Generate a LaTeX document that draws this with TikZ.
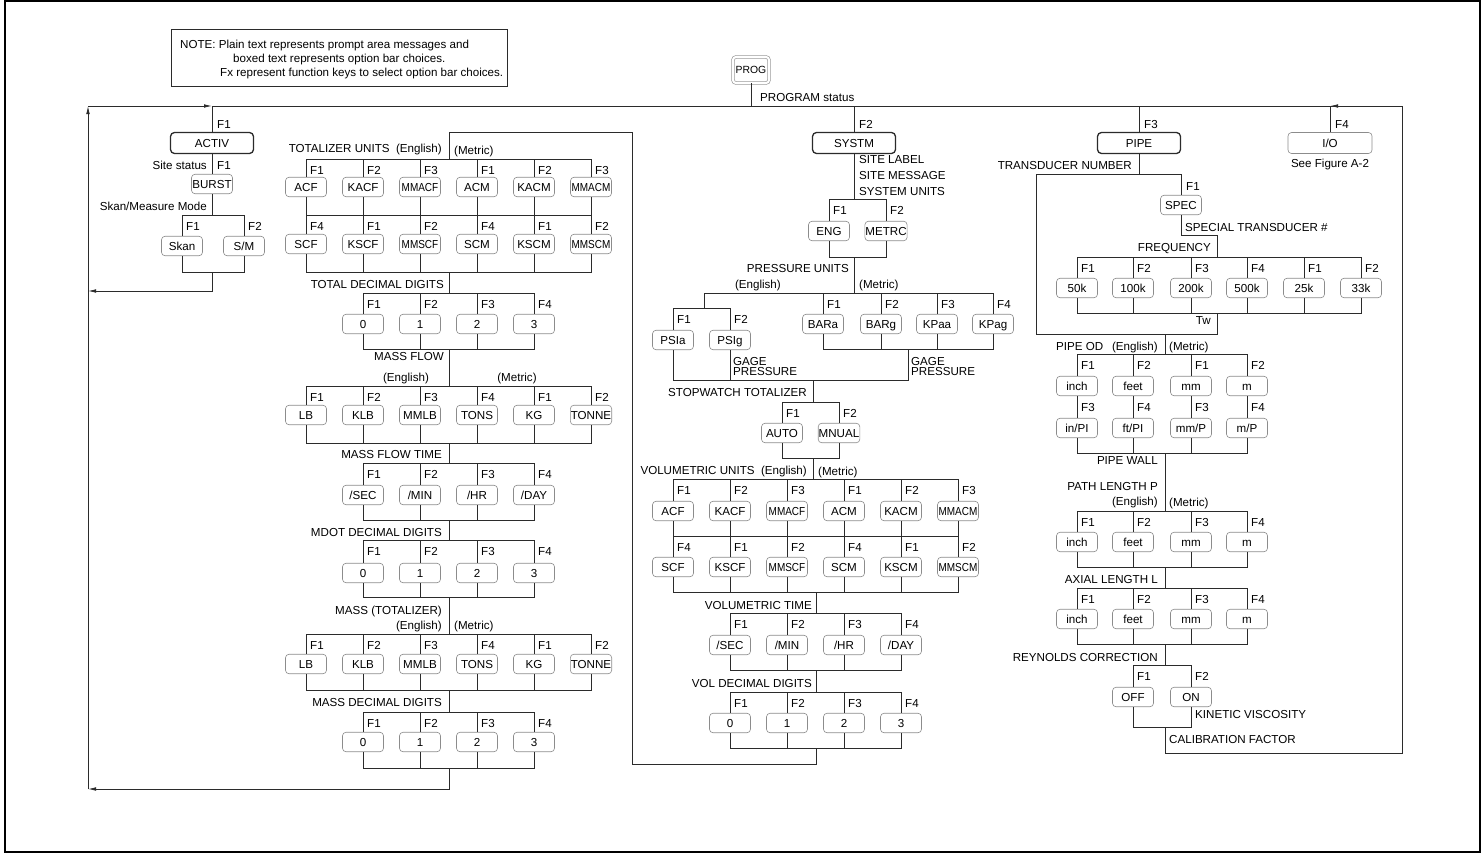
\documentclass[tikz,border=0pt]{standalone}
\usepackage{fontspec}
\setmainfont{Liberation Sans}
\usetikzlibrary{arrows.meta,positioning,calc}
\definecolor{Ink}{HTML}{2B2B2B}
\definecolor{Edge}{HTML}{8C8C8C}
\tikzset{>=Latex,
 every node/.style={font=\fontsize{11.6}{12}\selectfont,text=black},
 ln/.style={draw=Ink,line width=.8pt},
 arr/.style={ln,-{Latex[length=8pt,width=3.6pt]}},
 opt/.style={draw=Edge,fill=white,rounded corners=3.5pt,minimum width=41pt,minimum height=19.5pt,inner sep=.5pt,line width=.6pt,text height=8.3pt,text depth=0pt},
 menu/.style={draw=Ink,fill=white,rounded corners=4pt,minimum width=83pt,minimum height=21pt,line width=1.3pt,inner sep=1pt,text height=8.3pt,text depth=0pt},
 msgL/.style={anchor=base west,inner sep=0pt,yshift=-4.1pt},
 msgR/.style={anchor=base east,inner sep=0pt,yshift=-4.1pt},
 msgC/.style={anchor=base,inner sep=0pt,yshift=-4.1pt},
 fk/.style={msgL},
 gage/.style={anchor=west,inner sep=0pt,align=left,font=\fontsize{11.6}{10}\selectfont},
 }
\newcommand{\nar}[1]{\scalebox{.86}[1]{#1}}
% one bar of option keys: prefix, top x, top y, key y, bottom x, bottom y, x/F/label
\newcommand{\optrow}[7]{%
 \coordinate (#1T) at (#2,#3);
 \coordinate (#1B) at (#5,#6);
 \foreach \xx/\fn/\lab [count=\i] in {#7}{
  \node[opt] (#1\i) at (\xx,#4) {\lab};
  \node[fk] (#1f\i) at ({\xx+4},{#3+11.5}) {\fn};
  \draw[ln] (#1T) -| (#1\i);
  \draw[ln] (#1\i) |- (#1B);
 }}
% two rows of option keys: prefix, top x, top y, row1 y, mid y, row2 y, bottom x, bottom y, x/F/label/F/label
\newcommand{\optgrid}[9]{%
 \coordinate (#1T) at (#2,#3);
 \coordinate (#1B) at (#7,#8);
 \foreach \xx/\fa/\la/\fb/\lb [count=\i] in {#9}{
  \node[opt] (#1a\i) at (\xx,#4) {\la};
  \node[opt] (#1b\i) at (\xx,#6) {\lb};
  \node[fk] (#1fa\i) at ({\xx+4},{#3+11.5}) {\fa};
  \node[fk] (#1fb\i) at ({\xx+4},{#5+11.5}) {\fb};
  \draw[ln] (#1T) -| (#1a\i);
  \draw[ln] (#1a\i) -- (#1b\i);
  \draw[ln] (#1b\i) |- (#1B);
 }}

\begin{document}
\begin{tikzpicture}[x=1pt,y=-1pt]
 \useasboundingbox (0,0) rectangle (1482,854);
 \draw[line width=1.6pt] (5,1) rectangle (1480,852);
 % note
 \node[draw=Ink,line width=.8pt,minimum width=336pt,minimum height=57pt] (note) at (339,57.5) {};
 \node[msgL] (noteA) at (180,44) {NOTE: Plain text represents prompt area messages and};
 \node[msgL] (noteB) at (233,58) {boxed text represents option bar choices.};
 \node[msgL] (noteC) at (220,72) {Fx represent function keys to select option bar choices.};
 % program key and main line
 \node[draw=Edge,double,double distance=2.2pt,line width=.6pt,rounded corners=3pt,minimum width=36pt,minimum height=26pt,inner sep=1pt,font=\fontsize{10.4}{12}\selectfont] (prog) at (751,70) {PROG};
 \coordinate (topM) at (751,106);
 \draw[ln] (prog) -- (topM);
 \node[msgL] (progst) at (760,97) {PROGRAM status};
 \coordinate (retC) at (88,106);
 \coordinate (topA) at (212,106);
 \coordinate (topR) at (1402,106);
 \draw[ln] (topA) -- (topR);
 \draw[arr] (retC) -- (topA);

 % ACTIV
 \node[menu] (activ) at (212,143) {ACTIV};
 \node[fk] (activf) at (217,124) {F1};
 \draw[ln] (topA) -- (activ);
 \node[opt] (burst) at (212,184) {BURST};
 \node[fk] (burstf) at (217,165) {F1};
 \node[msgR] (sitest) at (207,165) {Site status};
 \draw[ln] (activ) -- (burst);
 \node[msgR] (skanm) at (207,206) {Skan/Measure Mode};
 \optrow{sk}{212}{215}{246}{212}{272}{182/F1/Skan,244/F2/{S/M}}
 \draw[ln] (burst) -- (skT);
 \coordinate (retA) at (88,291);
 \draw[arr] (skB) |- (retA);
 \coordinate (retT) at (88,789);
 \draw[arr] (retT) -- (retC);

 % totalizer
 \node[msgR] (tul) at (442,148) {TOTALIZER UNITS~~(English)};
 \node[msgL] (tum) at (454,150) {(Metric)};
 \optgrid{tu}{449}{159}{187}{215}{244}{449}{272}{306/F1/ACF/F4/SCF,363/F2/KACF/F1/KSCF,420/F3/\nar{MMACF}/F2/\nar{MMSCF},477/F1/ACM/F4/SCM,534/F2/KACM/F1/KSCM,591/F3/\nar{MMACM}/F2/\nar{MMSCM}}
 \coordinate (tuM) at (449,215);
 \draw[ln] (tuM -| tua1) -- (tuM -| tua6);
 \node[msgR] (tdl) at (444,284) {TOTAL DECIMAL DIGITS};
 \optrow{td}{449}{293}{324}{449}{349}{363/F1/0,420/F2/1,477/F3/2,534/F4/3}
 \draw[ln] (tuB) -- (tdT);
 \node[msgR] (mfl) at (444,356) {MASS FLOW};
 \node[msgC] (mfe) at (406,377) {(English)};
 \node[msgC] (mfm) at (517,377) {(Metric)};
 \optrow{mf}{449}{386}{415}{449}{443}{306/F1/LB,363/F2/KLB,420/F3/MMLB,477/F4/TONS,534/F1/KG,591/F2/TONNE}
 \draw[ln] (tdB) -- (mfT);
 \node[msgR] (mtl) at (442,454) {MASS FLOW TIME};
 \optrow{mt}{449}{463}{495}{449}{520}{363/F1/{/SEC},420/F2/{/MIN},477/F3/{/HR},534/F4/{/DAY}}
 \draw[ln] (mfB) -- (mtT);
 \node[msgR] (mdl) at (442,532) {MDOT DECIMAL DIGITS};
 \optrow{md}{449}{540}{573}{449}{597}{363/F1/0,420/F2/1,477/F3/2,534/F4/3}
 \draw[ln] (mtB) -- (mdT);
 \node[msgR] (msl) at (442,610) {MASS (TOTALIZER)};
 \node[msgR] (mse) at (442,625) {(English)};
 \node[msgL] (msm) at (454,625) {(Metric)};
 \optrow{ms}{449}{634}{664}{449}{690}{306/F1/LB,363/F2/KLB,420/F3/MMLB,477/F4/TONS,534/F1/KG,591/F2/TONNE}
 \draw[ln] (mdB) -- (msT);
 \node[msgR] (sdl) at (442,702) {MASS DECIMAL DIGITS};
 \optrow{sd}{449}{712}{742}{449}{768}{363/F1/0,420/F2/1,477/F3/2,534/F4/3}
 \draw[ln] (msB) -- (sdT);
 \draw[arr] (sdB) |- (retT);

 % SYSTM
 \coordinate (topS) at (854,106);
 \node[menu] (systm) at (854,143) {SYSTM};
 \node[fk] (systmf) at (859,124) {F2};
 \draw[ln] (topS) -- (systm);
 \node[msgL] (sitel) at (859,159) {SITE LABEL};
 \node[msgL] (sitem) at (859,175) {SITE MESSAGE};
 \node[msgL] (sysu) at (859,191) {SYSTEM UNITS};
 \optrow{su}{854}{199}{231}{854}{257}{829/F1/ENG,886/F2/METRC}
 \draw[ln] (systm) -- (suT);
 \node[msgR] (pul) at (849,268) {PRESSURE UNITS};
 \node[msgR] (pue) at (781,284) {(English)};
 \node[msgL] (pum) at (859,284) {(Metric)};
 \optrow{pm}{854}{293}{324}{908}{349}{823/F1/BARa,881/F2/BARg,937/F3/KPaa,993/F4/KPag}
 \draw[ln] (suB) -- (pmT);
 \optrow{pe}{704}{308}{340}{813}{380}{673/F1/PSIa,730/F2/PSIg}
 \draw[ln] (pmT) -| (peT);
 \draw[ln] (pmB) |- (peB);
 \node[gage] (gpe) at (733,367) {GAGE\\PRESSURE};
 \node[gage] (gpm) at (911,367) {GAGE\\PRESSURE};
 \node[msgR] (swl) at (807,392) {STOPWATCH TOTALIZER};
 \optrow{sw}{813}{402}{433}{813}{458}{782/F1/AUTO,839/F2/MNUAL}
 \draw[ln] (peB) -- (swT);
 \node[msgR] (vul) at (807,470) {VOLUMETRIC UNITS~~(English)};
 \node[msgL] (vum) at (818,471) {(Metric)};
 \optgrid{vu}{813}{479}{511}{536}{567}{816}{592}{673/F1/ACF/F4/SCF,730/F2/KACF/F1/KSCF,787/F3/\nar{MMACF}/F2/\nar{MMSCF},844/F1/ACM/F4/SCM,901/F2/KACM/F1/KSCM,958/F3/\nar{MMACM}/F2/\nar{MMSCM}}
 \coordinate (vuM) at (816,536);
 \draw[ln] (vuM -| vua1) -- (vuM -| vua6);
 \draw[ln] (swB) -- (vuT);
 \node[msgR] (vtl) at (812,605) {VOLUMETRIC TIME};
 \optrow{vt}{816}{613}{645}{816}{670}{730/F1/{/SEC},787/F2/{/MIN},844/F3/{/HR},901/F4/{/DAY}}
 \draw[ln] (vuB) -- (vtT);
 \node[msgR] (vdl) at (812,683) {VOL DECIMAL DIGITS};
 \optrow{vd}{816}{692}{723}{816}{748}{730/F1/0,787/F2/1,844/F3/2,901/F4/3}
 \draw[ln] (vtB) -- (vdT);
 \coordinate (loopA) at (632,764);
 \coordinate (loopB) at (449,132);
 \draw[ln] (vdB) |- (loopA) |- (loopB) -- (tuT);

 % PIPE
 \coordinate (topP) at (1139,106);
 \node[menu] (pipe) at (1139,143) {PIPE};
 \node[fk] (pipef) at (1144,124) {F3};
 \draw[ln] (topP) -- (pipe);
 \node[msgR] (tnl) at (1132,165) {TRANSDUCER NUMBER};
 \coordinate (tnT) at (1139,174);
 \coordinate (tnL) at (1036,334);
 \coordinate (twB) at (1165,334);
 \draw[ln] (pipe) -- (tnT);
 \draw[ln] (tnT) -| (tnL) -- (twB);
 \node[opt] (spec) at (1181,205) {SPEC};
 \node[fk] (specf) at (1186,186) {F1};
 \draw[ln] (tnT) -| (spec);
 \node[msgL] (sptl) at (1185,227) {SPECIAL TRANSDUCER \#};
 \node[msgR] (fql) at (1211,247) {FREQUENCY};
 \optrow{fq}{1217}{257}{288}{1217}{313}{1077/F1/50k,1133/F2/100k,1191/F3/200k,1247/F4/500k,1304/F1/25k,1361/F2/33k}
 \coordinate (stC) at (1217,235);
 \draw[ln] (spec) |- (stC) -- (fqT);
 \node[msgR] (twl) at (1211,320) {Tw};
 \draw[ln] (fqB) |- (twB);
 \node[msgL] (odl) at (1056,346) {PIPE OD};
 \node[msgR] (ode) at (1158,346) {(English)};
 \node[msgL] (odm) at (1169,346) {(Metric)};
 \optgrid{od}{1165}{354}{386}{396}{428}{1165}{453}{1077/F1/inch/F3/{in/PI},1133/F2/feet/F4/{ft/PI},1191/F1/mm/F3/{mm/P},1247/F2/m/F4/{m/P}}
 \draw[ln] (twB) -- (odT);
 \node[msgR] (pwl) at (1158,460) {PIPE WALL};
 \node[msgR] (pll) at (1158,486) {PATH LENGTH P};
 \node[msgR] (ple) at (1158,501) {(English)};
 \node[msgL] (plm) at (1169,502) {(Metric)};
 \optrow{pl}{1165}{511}{542}{1165}{567}{1077/F1/inch,1133/F2/feet,1191/F3/mm,1247/F4/m}
 \draw[ln] (odB) -- (plT);
 \node[msgR] (all) at (1158,579) {AXIAL LENGTH L};
 \optrow{al}{1165}{588}{619}{1165}{644}{1077/F1/inch,1133/F2/feet,1191/F3/mm,1247/F4/m}
 \draw[ln] (plB) -- (alT);
 \node[msgR] (rel) at (1158,657) {REYNOLDS CORRECTION};
 \optrow{re}{1165}{665}{697}{1165}{727}{1133/F1/OFF,1191/F2/ON}
 \draw[ln] (alB) -- (reT);
 \node[msgL] (kvl) at (1195,714) {KINETIC VISCOSITY};
 \node[msgL] (cfl) at (1169,739) {CALIBRATION FACTOR};

 % I/O and return
 \coordinate (ioT) at (1330,106);
 \node[opt,minimum width=84pt,minimum height=21pt] (io) at (1330,143) {I/O};
 \node[fk] (iof) at (1335,124) {F4};
 \node[msgC] (seefig) at (1330,163) {See Figure A-2};
 \draw[ln] (ioT) -- (io);
 \coordinate (retR) at (1402,753);
 \draw[arr] (reB) |- (retR) -- (topR) -- (ioT);
\end{tikzpicture}
\end{document}
